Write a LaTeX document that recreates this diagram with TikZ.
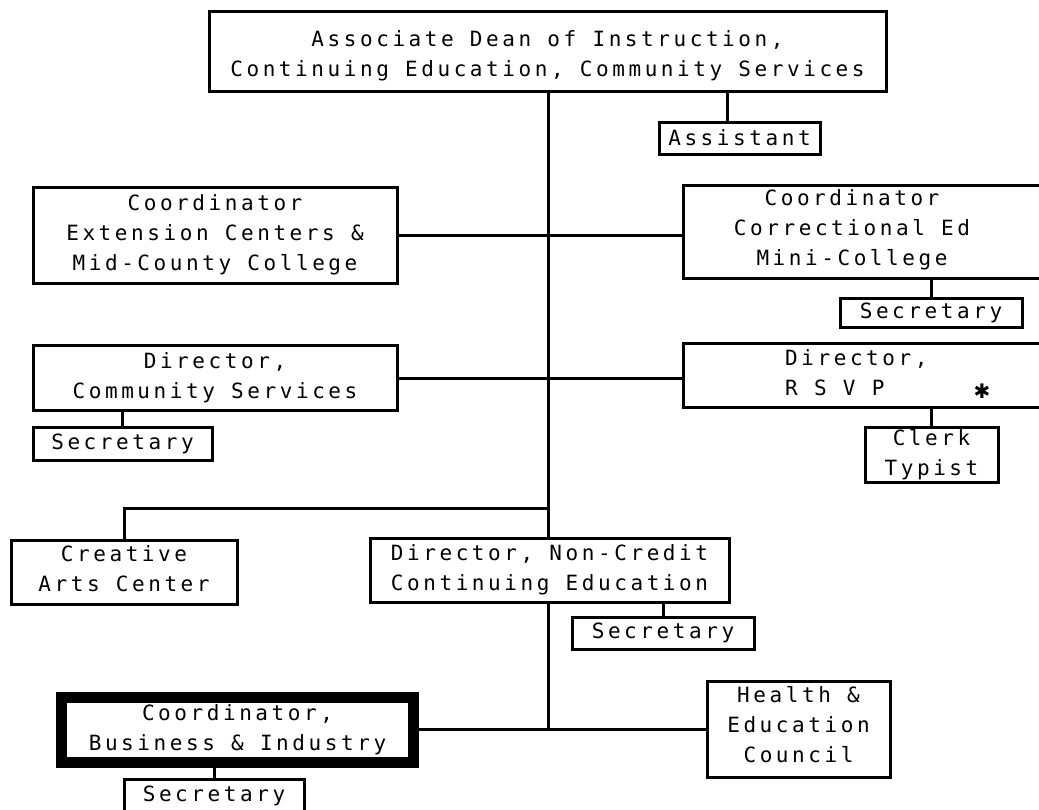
\documentclass[tikz,border=0pt]{standalone}
\usepackage{fontspec}
\newfontfamily\orgfont{DejaVu Sans Mono}[LetterSpace=17]
\newfontfamily\symfont{DejaVu Sans}
\begin{document}
\begin{tikzpicture}[x=1pt,y=-1pt,
  box/.style={draw, line width=3pt, inner sep=0pt, align=center,
    font={\orgfont\fontsize{21}{30}\selectfont}},
  txt/.style={inner sep=0pt, align=center, font={\orgfont\fontsize{21}{30}\selectfont}},
  thickbox/.style={box, line width=11pt},
  conn/.style={line width=3pt}]
\useasboundingbox (0,0) rectangle (1039,809);
\fill[white] (0,0) rectangle (1039,809);

% nodes
\node[box, minimum width=677pt, minimum height=80pt] (dean) at (547.5,51) {};
\node[txt] (deant) at (547.5,56)
  {Associate Dean of Instruction,\\Continuing Education, Community Services};
\node[box, minimum width=161pt, minimum height=32pt] (asst) at (739.5,138) {Assistant};
\node[box, minimum width=364pt, minimum height=96pt] (ext) at (215,235)
  {Coordinator\\Extension Centers \&\\Mid-County College};
\node[box, minimum width=362pt, minimum height=93pt] (corr) at (864,231.5) {};
\node[txt] (corrt) at (852,230) {Coordinator\\Correctional Ed\\Mini-College};
\node[box, minimum width=182pt, minimum height=29pt] (csec) at (931,312.5) {Secretary};
\node[box, minimum width=364pt, minimum height=65pt] (comm) at (215,378)
  {Director,\\Community Services};
\node[box, minimum width=179pt, minimum height=33pt] (comsec) at (122.5,443.5) {Secretary};
\node[box, minimum width=362pt, minimum height=64pt] (rsvp) at (864,375) {};
\node[txt, anchor=west, align=left] (rsvpt) at (785,373) {Director,\\R S V P};
\node[inner sep=0pt, font={\symfont\fontsize{20}{24}\selectfont}] (star) at (982,391) {✱};
\node[box, minimum width=133pt, minimum height=55pt] (clerk) at (931.5,454.5) {Clerk\\Typist};
\node[box, minimum width=226pt, minimum height=64pt] (cre) at (124,572) {};
\node[txt] (cret) at (124,569) {Creative\\Arts Center};
\node[box, minimum width=359pt, minimum height=64pt] (nc) at (549.5,570)
  {Director, Non-Credit\\Continuing Education};
\node[box, minimum width=182pt, minimum height=32pt] (ncsec) at (663,633) {Secretary};
\node[thickbox, minimum width=352pt, minimum height=64.5pt] (bus) at (237.5,729.75)
  {Coordinator,\\Business \& Industry};
\node[box, minimum width=180pt, minimum height=33pt] (bussec) at (214,795.5) {Secretary};
\node[box, minimum width=183pt, minimum height=96pt] (health) at (798.5,729) {};
\node[txt] (healtht) at (798.5,725) {Health \&\\Education\\Council};

% junction coordinates
\coordinate (mx) at (548,0);
\coordinate (ja) at (727,0);
\coordinate (jc) at (548,508);
\coordinate (jb) at (548,729);

% connectors
\draw[conn] (dean.south -| mx) -- (nc.north -| mx);
\draw[conn] (dean.south -| ja) -- (asst.north -| ja);
\draw[conn] (ext.east) -- (ext.east -| corr.west);
\draw[conn] (comm.east) -- (comm.east -| rsvp.west);
\draw[conn] (corr.south -| csec.north) -- (csec.north);
\draw[conn] (rsvp.south -| clerk.north) -- (clerk.north);
\draw[conn] (comm.south -| comsec.north) -- (comsec.north);
\draw[conn] (jc) -| (cre.north);
\draw[conn] (nc.south -| ncsec.north) -- (ncsec.north);
\draw[conn] (nc.south -| mx) -- (jb);
\draw[conn] (bus.east) -- (bus.east -| health.west);
\draw[conn] (bus.south -| bussec.north) -- (bussec.north);
\end{tikzpicture}
\end{document}
